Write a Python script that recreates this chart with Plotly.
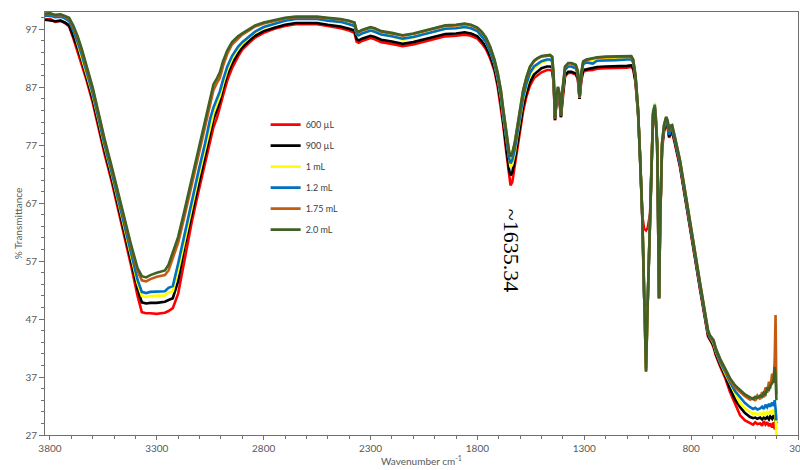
import plotly.graph_objects as go

wavenumber = [3830, 3800, 3775, 3750, 3730, 3710, 3690, 3670, 3650, 3630, 3600, 3575, 3545, 3510, 3480,
              3450, 3420, 3390, 3370, 3350, 3330, 3300, 3280, 3262, 3245, 3225, 3200, 3170, 3135, 3105,
              3075, 3050, 3035, 3018, 3005, 2990, 2970, 2948, 2920, 2900, 2870, 2840, 2800, 2750, 2700,
              2650, 2600, 2550, 2500, 2440, 2400, 2375, 2365, 2355, 2340, 2320, 2300, 2280, 2250, 2200,
              2150, 2100, 2050, 2000, 1950, 1900, 1860, 1830, 1800, 1780, 1760, 1740, 1720, 1705, 1690,
              1680, 1665, 1652, 1645, 1637, 1625, 1614, 1600, 1586, 1570, 1554, 1535, 1521, 1500, 1474,
              1460, 1450, 1443, 1437, 1430, 1423, 1416, 1409, 1402, 1390, 1375, 1360, 1340, 1330, 1322,
              1314, 1305, 1290, 1260, 1240, 1200, 1150, 1100, 1080, 1071, 1060, 1048, 1039, 1029, 1020,
              1011, 1003, 992, 984, 978, 970, 964, 959, 954, 950, 945, 936, 927, 917, 910,
              903, 895, 889, 875, 852, 830, 805, 780, 758, 740, 721, 712, 702, 695, 685,
              665, 640, 618, 595, 571, 548, 524, 510, 500, 490, 477, 468, 460, 452, 444,
              436, 430, 421, 414, 409, 405, 401]

t_600uL = [98.6, 98.8, 98.3, 98.5, 98.1, 97.5, 95.4, 93.2, 90.9, 88.4, 84.4, 80.4, 75.6, 70.6, 66.0,
           61.0, 56.2, 51.0, 48.2, 48.0, 48.0, 47.9, 48.0, 48.1, 48.4, 48.9, 51.4, 57.5, 64.0, 69.0,
           73.7, 78.1, 80.1, 81.8, 83.4, 85.6, 88.2, 90.3, 92.3, 93.5, 94.6, 95.6, 96.4, 97.1, 97.6,
           97.9, 97.9, 97.9, 97.6, 97.2, 96.8, 96.4, 94.9, 94.7, 95.0, 95.3, 95.5, 95.3, 94.8, 94.5,
           94.1, 94.4, 94.9, 95.3, 95.8, 95.9, 96.1, 95.9, 95.4, 94.6, 93.6, 92.0, 89.8, 87.1, 83.7,
           80.7, 75.9, 71.4, 70.1, 70.6, 73.5, 76.4, 79.9, 82.9, 85.5, 87.3, 88.6, 89.0, 89.6, 90.0,
           90.0, 89.8, 87.6, 81.3, 84.4, 85.5, 84.6, 81.8, 85.0, 88.9, 89.5, 89.5, 89.2, 88.4, 85.0,
           88.1, 89.7, 89.9, 90.0, 90.2, 90.3, 90.3, 90.4, 90.5, 90.1, 87.8, 82.2, 75.2, 65.0, 62.6,
           62.3, 62.8, 65.2, 75.4, 81.8, 83.0, 80.6, 77.0, 65.0, 50.6, 63.6, 76.2, 79.3, 80.7, 80.1,
           78.3, 79.1, 79.3, 77.1, 73.2, 68.3, 62.3, 57.0, 52.0, 48.0, 44.0, 43.4, 42.8, 42.1, 40.8,
           38.9, 36.8, 34.4, 32.3, 30.4, 29.5, 29.0, 28.8, 29.2, 28.9, 29.0, 28.6, 29.4, 28.8, 29.2,
           28.5, 29.0, 28.3, 29.2, 28.0, 28.3, 28.0]

t_900uL = [98.7, 98.6, 98.4, 98.5, 98.2, 97.7, 95.8, 93.8, 91.5, 89.0, 85.0, 81.0, 76.2, 71.2, 66.6,
           61.7, 57.0, 52.2, 49.9, 49.7, 49.8, 49.8, 49.9, 50.0, 50.3, 50.6, 53.6, 59.6, 65.3, 70.3,
           75.0, 79.4, 81.5, 83.2, 84.6, 86.8, 89.2, 91.1, 92.9, 93.9, 95.0, 95.9, 96.7, 97.3, 97.8,
           98.1, 98.1, 98.1, 97.8, 97.5, 97.1, 96.8, 95.3, 95.1, 95.4, 95.7, 95.9, 95.7, 95.2, 94.9,
           94.5, 94.8, 95.3, 95.7, 96.2, 96.3, 96.5, 96.3, 95.8, 95.0, 94.0, 92.4, 90.2, 87.6, 84.3,
           81.3, 76.8, 72.8, 71.8, 72.3, 74.5, 77.3, 80.7, 83.7, 86.1, 87.9, 89.2, 89.6, 90.3, 90.6,
           90.6, 90.4, 87.8, 81.4, 84.6, 85.8, 84.9, 81.9, 85.3, 89.1, 89.7, 89.7, 89.4, 88.6, 85.0,
           88.4, 90.0, 90.1, 90.3, 90.5, 90.6, 90.6, 90.7, 90.8, 90.4, 88.0, 82.4, 75.4, 65.2, 51.5,
           38.5, 50.4, 65.6, 75.8, 82.3, 83.4, 80.9, 77.2, 65.0, 50.6, 63.8, 76.8, 79.7, 81.0, 80.4,
           78.5, 79.4, 79.6, 77.4, 73.5, 68.6, 62.6, 57.3, 52.3, 48.3, 44.3, 43.6, 43.0, 42.4, 41.1,
           39.2, 37.2, 35.0, 33.2, 31.8, 30.8, 30.1, 29.9, 30.0, 29.8, 30.0, 29.7, 30.0, 29.8, 30.1,
           29.7, 30.2, 29.8, 30.4, 30.0, 29.5, 29.0]

t_1mL = [99.5, 99.6, 99.3, 99.4, 99.1, 98.7, 97.0, 94.5, 92.2, 89.7, 85.7, 81.7, 76.9, 71.9, 67.3,
         62.4, 57.8, 53.2, 51.0, 50.8, 51.0, 51.0, 51.0, 51.1, 51.6, 51.8, 55.4, 60.8, 66.5, 71.5,
         76.2, 80.6, 82.5, 84.2, 85.5, 87.6, 90.0, 91.9, 93.6, 94.5, 95.5, 96.5, 97.3, 98.0, 98.6,
         98.9, 98.9, 98.9, 98.6, 98.3, 97.9, 97.6, 96.2, 96.0, 96.3, 96.6, 96.8, 96.6, 96.1, 95.8,
         95.2, 95.6, 96.2, 96.6, 97.1, 97.2, 97.4, 97.2, 96.7, 95.8, 94.8, 93.2, 91.0, 88.5, 85.3,
         82.3, 78.0, 74.2, 73.2, 73.7, 75.7, 78.5, 81.9, 84.9, 87.3, 89.1, 90.3, 90.7, 91.3, 91.6,
         91.6, 91.4, 88.4, 82.3, 85.3, 86.6, 85.6, 82.4, 86.0, 90.0, 90.6, 90.6, 90.3, 89.3, 85.2,
         89.2, 91.1, 91.4, 91.6, 91.8, 92.0, 92.0, 92.1, 92.1, 91.5, 88.8, 82.9, 75.8, 65.6, 51.8,
         38.2, 50.2, 66.0, 76.3, 83.0, 84.3, 81.6, 77.6, 65.0, 50.6, 64.0, 77.2, 80.2, 81.5, 80.9,
         79.0, 79.9, 80.1, 77.9, 74.0, 69.1, 63.1, 57.8, 52.8, 48.8, 44.7, 43.9, 43.3, 42.8, 41.5,
         39.6, 37.6, 35.9, 34.2, 32.5, 31.6, 30.9, 30.6, 30.8, 30.5, 30.7, 30.4, 30.9, 30.6, 31.0,
         30.6, 31.2, 30.8, 31.4, 31.0, 30.5, 27.0]

t_1_2mL = [99.3, 99.4, 99.1, 99.2, 98.9, 98.4, 96.7, 94.8, 92.5, 90.0, 86.0, 82.0, 77.2, 72.2, 67.6,
           62.8, 58.3, 53.8, 51.7, 51.5, 51.7, 51.7, 51.7, 51.8, 52.4, 52.7, 56.6, 61.8, 67.5, 72.5,
           77.2, 81.6, 83.5, 85.2, 86.3, 88.3, 90.6, 92.4, 94.0, 94.8, 95.7, 96.6, 97.4, 98.0, 98.5,
           98.8, 98.8, 98.8, 98.5, 98.3, 97.9, 97.6, 96.2, 96.0, 96.3, 96.6, 96.8, 96.6, 96.1, 95.8,
           95.4, 95.7, 96.2, 96.6, 97.1, 97.2, 97.4, 97.2, 96.7, 95.8, 94.8, 93.2, 91.0, 88.6, 85.5,
           82.5, 78.4, 74.8, 73.9, 74.4, 76.3, 79.0, 82.3, 85.3, 87.7, 89.5, 90.6, 91.0, 91.5, 91.8,
           91.8, 91.5, 88.4, 81.9, 85.2, 86.6, 85.5, 82.3, 86.0, 90.0, 90.6, 90.6, 90.3, 89.3, 85.2,
           89.1, 91.0, 91.3, 91.1, 91.6, 91.7, 91.7, 91.8, 91.8, 91.3, 88.7, 82.8, 75.7, 65.5, 50.6,
           49.3, 50.1, 65.8, 76.1, 82.8, 84.0, 81.4, 77.5, 65.0, 50.6, 64.0, 77.0, 80.0, 81.3, 80.7,
           78.8, 79.7, 79.9, 77.7, 73.8, 68.9, 62.9, 57.6, 52.6, 48.6, 44.6, 43.9, 43.4, 43.0, 41.6,
           39.7, 37.9, 36.1, 34.6, 33.5, 32.5, 31.8, 31.5, 31.7, 31.4, 31.6, 31.9, 31.5, 32.2, 31.8,
           32.4, 31.9, 32.6, 32.0, 33.0, 31.5, 29.5]

t_1_75mL = [99.6, 99.7, 99.4, 99.5, 99.2, 98.8, 97.3, 95.5, 93.2, 90.7, 86.7, 82.7, 77.9, 72.9, 68.3,
            63.7, 59.4, 55.3, 53.7, 53.5, 53.9, 54.3, 54.4, 54.6, 55.4, 57.4, 60.2, 64.8, 70.5, 75.5,
            80.2, 84.6, 86.5, 87.8, 88.6, 90.7, 92.8, 94.4, 95.5, 96.1, 96.8, 97.5, 98.0, 98.5, 98.9,
            99.1, 99.1, 99.1, 98.9, 98.7, 98.4, 98.1, 96.7, 96.5, 96.8, 97.1, 97.3, 97.1, 96.6, 96.3,
            95.9, 96.2, 96.7, 97.1, 97.6, 97.7, 97.9, 97.7, 97.2, 96.5, 95.5, 93.9, 91.7, 89.4, 86.4,
            83.4, 79.4, 75.9, 75.0, 75.5, 77.4, 80.1, 83.4, 86.4, 88.7, 90.5, 91.5, 91.9, 92.3, 92.5,
            92.5, 92.2, 88.9, 81.6, 85.4, 87.0, 85.9, 82.1, 86.4, 90.5, 91.1, 91.1, 90.8, 89.7, 85.3,
            89.4, 91.4, 91.7, 91.9, 92.1, 92.2, 92.2, 92.3, 92.3, 91.7, 88.9, 83.0, 75.9, 65.7, 51.9,
            38.0, 50.0, 65.8, 76.0, 82.5, 83.6, 81.0, 77.3, 65.0, 50.6, 64.0, 77.4, 80.4, 81.8, 81.2,
            79.5, 80.3, 80.4, 78.2, 74.3, 69.4, 63.4, 58.1, 53.1, 49.1, 45.0, 44.1, 43.6, 43.3, 41.9,
            40.1, 38.2, 36.5, 35.2, 34.4, 33.7, 33.1, 33.4, 32.9, 33.8, 33.2, 34.4, 33.5, 35.2, 34.3,
            36.2, 35.0, 37.6, 36.0, 40.0, 47.7, 34.0]

t_2_0mL = [99.7, 99.8, 99.5, 99.6, 99.3, 99.0, 97.6, 95.8, 93.5, 91.0, 87.0, 83.0, 78.2, 73.2, 68.6,
           64.0, 59.8, 55.8, 54.4, 54.2, 54.6, 55.0, 55.2, 55.4, 56.4, 58.5, 61.2, 65.8, 71.5, 76.5,
           81.2, 85.6, 87.5, 88.6, 89.6, 91.5, 93.4, 94.8, 95.8, 96.3, 97.0, 97.7, 98.2, 98.6, 99.0,
           99.2, 99.2, 99.2, 99.0, 98.8, 98.5, 98.2, 96.8, 96.6, 96.9, 97.2, 97.4, 97.2, 96.7, 96.4,
           96.0, 96.3, 96.8, 97.2, 97.7, 97.8, 98.0, 97.8, 97.3, 96.6, 95.6, 94.0, 91.8, 89.5, 86.5,
           83.5, 79.5, 76.0, 75.1, 75.6, 77.5, 80.2, 83.5, 86.5, 88.8, 90.6, 91.6, 92.0, 92.4, 92.6,
           92.6, 92.3, 89.0, 81.6, 85.5, 87.1, 86.0, 82.2, 86.5, 90.6, 91.2, 91.2, 90.9, 89.8, 85.4,
           89.5, 91.5, 91.8, 92.0, 92.2, 92.3, 92.3, 92.4, 92.4, 91.8, 89.0, 83.1, 76.0, 65.8, 52.0,
           37.9, 50.0, 65.8, 76.0, 82.5, 83.6, 81.0, 77.3, 65.0, 50.6, 64.0, 77.4, 80.5, 81.9, 81.3,
           79.6, 80.4, 80.5, 78.3, 74.4, 69.5, 63.5, 58.2, 53.2, 49.2, 45.1, 44.2, 43.7, 43.4, 42.0,
           40.2, 38.4, 36.8, 35.6, 34.7, 34.0, 33.5, 33.2, 33.6, 33.4, 33.8, 33.6, 34.3, 34.0, 35.0,
           34.8, 35.5, 35.9, 36.5, 38.7, 37.0, 33.0]

series_names = ["600 µL", "900 µL", "1 mL", "1.2 mL", "1.75 mL", "2.0 mL"]
series_values = [t_600uL, t_900uL, t_1mL, t_1_2mL, t_1_75mL, t_2_0mL]
series_colors = ["#FF0000", "#000000", "#FFFF00", "#0070C0", "#C55A11", "#3F6125"]

peak_label = "~1635.34"
peak_pos = (1641, 58.9)

fig = go.Figure()
for name, vals, col in zip(series_names, series_values, series_colors):
    fig.add_trace(go.Scatter(x=wavenumber, y=vals, mode="lines", name=name,
                             legendgroup=name,
                             line=dict(color=col, width=2.6)))

fig.add_annotation(x=peak_pos[0], y=peak_pos[1], text=peak_label, textangle=90,
                   showarrow=False, font=dict(family="Liberation Serif", size=22, color="#000000"))

axis_font = dict(family="Lato, Open Sans, sans-serif", size=10, color="#595959")

fig.update_layout(
    width=800, height=470,
    margin=dict(l=45, r=2, t=12, b=35, autoexpand=False),
    paper_bgcolor="white", plot_bgcolor="white",
    showlegend=True,
    legend=dict(x=0.293, y=0.768, xanchor="left", yanchor="top",
                font=dict(family="Lato, Open Sans, sans-serif", size=9, color="#404040"),
                bgcolor="rgba(0,0,0,0)", traceorder="grouped", tracegroupgap=2,
                itemwidth=30),
    xaxis=dict(range=[3823, 300], tick0=300, dtick=500, showgrid=False, zeroline=False,
               automargin=False,
               showline=True, linecolor="#707070", linewidth=1, mirror=True,
               ticks="outside", ticklen=4, tickcolor="#707070", tickfont=axis_font,
               ticklabeloverflow="allow",
               minor=dict(dtick=100, tick0=300, ticks="outside", ticklen=3, tickcolor="#707070"),
               title=dict(text="Wavenumber cm<sup>-1</sup>", font=axis_font, standoff=4)),
    yaxis=dict(range=[27, 100], tick0=27, dtick=10, showgrid=False, zeroline=False,
               automargin=False,
               showline=True, linecolor="#707070", linewidth=1, mirror=True,
               ticks="outside", ticklen=5, tickcolor="#707070", tickfont=axis_font,
               minor=dict(dtick=2, tick0=27, ticks="outside", ticklen=3, tickcolor="#707070"),
               title=dict(text="% Transmittance", font=axis_font, standoff=0)),
)

fig.write_html("out.html", config={"displayModeBar": False},
               post_script="document.body.style.margin='0px';")
